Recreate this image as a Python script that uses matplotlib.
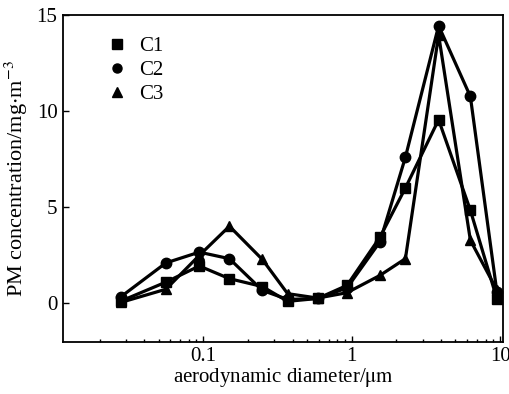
import numpy as np
import matplotlib
matplotlib.use('Agg')
import matplotlib.pyplot as plt
from matplotlib.lines import Line2D
from matplotlib.ticker import LogLocator, NullFormatter, FixedLocator

# aerodynamic diameter (um) of the impactor stages
diam = [0.028, 0.056, 0.094, 0.15, 0.25, 0.37, 0.59, 0.93, 1.55, 2.3, 3.85, 6.3, 9.5]

c1 = [0.12, 1.1, 1.94, 1.28, 0.87, 0.1, 0.25, 0.93, 3.44, 6.0, 9.55, 4.84, 0.24]
c2 = [0.35, 2.1, 2.66, 2.32, 0.67, 0.2, 0.25, 0.8, 3.2, 7.6, 14.44, 10.76, 0.6]
c3 = [0.05, 0.73, 2.49, 4.01, 2.28, 0.5, 0.27, 0.55, 1.45, 2.32, 13.96, 3.28, 0.69]

labels = ['C1', 'C2', 'C3']
markers = ['s', 'o', '^']
yticks = [0, 5, 10, 15]
xticks = [0.1, 1, 10]
xticklabels = ['0.1', '1', '10']

plt.rcParams['font.family'] = ['Liberation Serif', 'DejaVu Serif']
plt.rcParams['mathtext.fontset'] = 'stix'

fig = plt.figure(figsize=(5.09, 3.94), dpi=100)
ax = fig.add_axes([63 / 509, 1 - 341.7 / 394, (503.3 - 63) / 509, (341.7 - 15) / 394])

for ys, m in zip([c1, c2, c3], markers):
    ax.plot(diam, ys, color='k', linewidth=2.3, marker=m, markersize=7.5)

ax.set_xscale('log')
ax.set_xlim(0.01135, 10.5)
ax.set_ylim(-2, 15)

ax.xaxis.set_major_locator(FixedLocator(xticks))
ax.set_xticklabels(xticklabels)
ax.xaxis.set_minor_locator(LogLocator(base=10, subs=np.arange(2, 10)))
ax.xaxis.set_minor_formatter(NullFormatter())
ax.set_yticks(yticks)

ax.tick_params(which='both', direction='in', top=False, right=False, labelsize=15, width=1)
ax.tick_params(which='major', length=4, pad=4)
ax.tick_params(which='minor', length=2.5)
for s in ax.spines.values():
    s.set_linewidth(1.3)

ax.set_xlabel('aerodynamic diameter/$\\mathrm{\\mu m}$', fontsize=15, labelpad=0)
ax.set_ylabel('PM concentration/mg$\\cdot$m$^{-3}$', fontsize=16, labelpad=5)

handles = [Line2D([], [], color='k', marker=m, linestyle='none', markersize=6.5) for m in markers]
ax.legend(handles, labels, loc='upper left', bbox_to_anchor=(0.075, 0.965), frameon=False,
          fontsize=15, handlelength=1.0, handletextpad=0.55, labelspacing=0.2, borderpad=0)

fig.savefig('out.png', dpi=100)
